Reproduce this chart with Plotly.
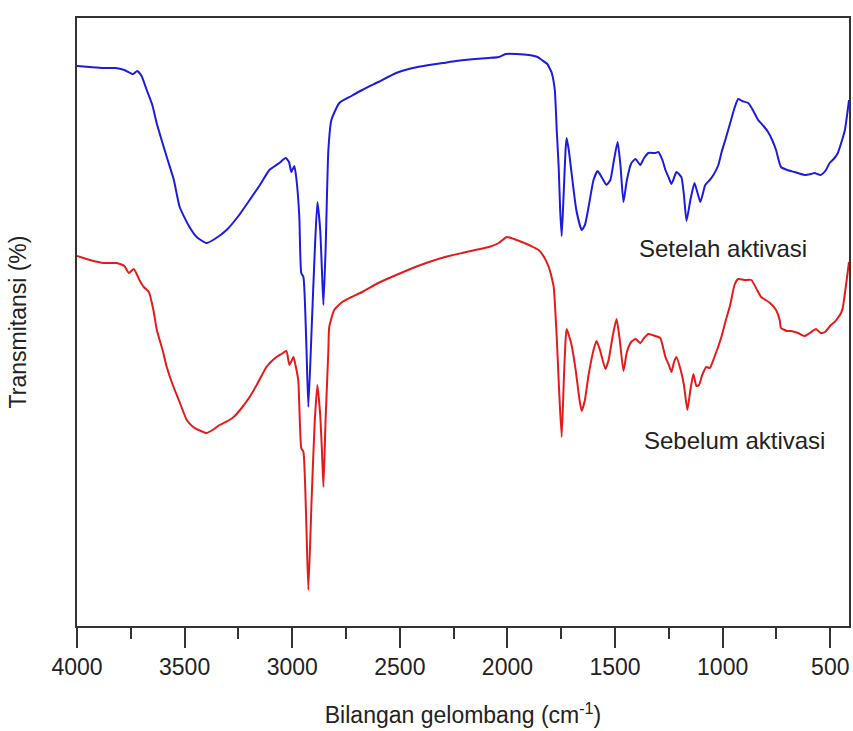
import plotly.graph_objects as go

# wavenumbers (cm-1) and transmittance (arbitrary %)
wn_after = [4000, 3940, 3880, 3820, 3780, 3740, 3720, 3700, 3676, 3650, 3630, 3583, 3550, 3523, 3480, 3444,
            3398, 3360, 3305, 3250, 3198, 3150, 3106, 3060, 3031, 3015, 3004, 2990, 2980, 2967, 2958, 2948,
            2935, 2925, 2910, 2895, 2883, 2870, 2862, 2855, 2845, 2832, 2818, 2781, 2725, 2675, 2600, 2517,
            2440, 2364, 2300, 2239, 2150, 2086, 2040, 2008, 1960, 1900, 1860, 1840, 1815, 1800, 1794, 1780,
            1771, 1762, 1755, 1748, 1740, 1730, 1725, 1715, 1702, 1680, 1655, 1640, 1623, 1600, 1581, 1560,
            1540, 1522, 1505, 1488, 1475, 1461, 1445, 1424, 1405, 1383, 1365, 1345, 1313, 1299, 1280, 1266,
            1250, 1238, 1226, 1215, 1192, 1180, 1168, 1150, 1131, 1118, 1104, 1090, 1081, 1060, 1043, 1020,
            1006, 985, 965, 945, 928, 910, 881, 860, 835, 810, 789, 770, 752, 729, 700, 666, 619, 590, 573,
            545, 520, 503, 480, 465, 445, 432, 420, 413]
t_after = [56.0, 55.9, 55.8, 55.8, 55.6, 55.2, 55.5, 55.0, 53.6, 52.1, 50.3, 46.9, 44.6, 41.9, 40.0, 38.9,
           38.3, 38.7, 39.6, 41.0, 42.6, 44.1, 45.6, 46.3, 46.8, 46.4, 45.4, 46.0, 44.6, 40.9, 35.3, 34.9,
           28.6, 21.9, 29.6, 37.6, 42.4, 39.6, 35.6, 32.1, 37.6, 47.6, 50.6, 52.3, 53.0, 53.6, 54.4, 55.3,
           55.8, 56.1, 56.3, 56.5, 56.7, 56.8, 56.9, 57.2, 57.2, 57.1, 56.9, 56.6, 56.2, 55.6, 55.3, 53.6,
           49.6, 45.9, 41.6, 39.0, 42.6, 47.6, 48.8, 47.6, 45.3, 41.6, 39.6, 40.1, 41.9, 44.6, 45.5, 44.8,
           44.1, 44.6, 46.6, 48.4, 46.1, 42.4, 44.6, 46.3, 46.7, 46.1, 46.8, 47.3, 47.3, 47.4, 46.6, 45.6,
           44.8, 44.2, 44.8, 45.4, 44.9, 43.1, 40.5, 42.6, 44.3, 43.4, 42.4, 43.4, 44.1, 44.6, 45.1, 46.1,
           47.3, 48.8, 50.3, 51.8, 52.7, 52.5, 52.3, 51.6, 50.6, 50.0, 49.4, 48.6, 47.6, 45.9, 45.6, 45.4,
           45.1, 45.2, 45.3, 45.1, 45.6, 46.3, 46.8, 47.3, 48.6, 49.6, 51.4, 52.6]

wn_before = [4000, 3940, 3875, 3815, 3780, 3759, 3736, 3710, 3690, 3666, 3645, 3629, 3600, 3583, 3555, 3527,
             3490, 3460, 3435, 3398, 3370, 3337, 3300, 3272, 3235, 3198, 3160, 3120, 3090, 3073, 3050, 3027,
             3013, 2994, 2985, 2972, 2958, 2948, 2935, 2925, 2910, 2895, 2883, 2870, 2862, 2855, 2845, 2832,
             2828, 2805, 2768, 2725, 2675, 2600, 2517, 2440, 2364, 2290, 2211, 2150, 2086, 2040, 2003, 1970,
             1933, 1890, 1855, 1830, 1808, 1795, 1785, 1771, 1760, 1748, 1738, 1730, 1725, 1715, 1702, 1683,
             1665, 1655, 1640, 1623, 1600, 1586, 1570, 1545, 1530, 1510, 1493, 1478, 1461, 1445, 1425, 1405,
             1383, 1365, 1345, 1313, 1290, 1266, 1250, 1238, 1226, 1215, 1195, 1180, 1164, 1150, 1136, 1122,
             1110, 1095, 1076, 1060, 1040, 1006, 985, 965, 945, 928, 900, 867, 840, 821, 800, 780, 752, 735,
             729, 700, 682, 650, 619, 595, 566, 545, 525, 497, 480, 465, 450, 442, 428, 413]
t_before = [37.0, 36.6, 36.3, 36.3, 36.0, 35.3, 35.7, 34.6, 33.9, 33.4, 31.6, 29.6, 27.4, 25.9, 24.1, 22.6,
            20.6, 19.9, 19.6, 19.3, 19.6, 20.1, 20.5, 20.9, 21.8, 22.9, 24.3, 25.9, 26.6, 26.9, 27.2, 27.5,
            26.1, 26.9, 26.1, 24.6, 17.8, 17.4, 10.6, 3.6, 12.6, 20.6, 24.1, 21.1, 17.6, 13.9, 20.6, 27.6,
            29.9, 31.6, 32.4, 32.9, 33.4, 34.3, 35.1, 35.8, 36.4, 36.9, 37.3, 37.6, 37.9, 38.3, 38.9, 38.7,
            38.4, 38.0, 37.6, 36.9, 35.9, 34.9, 33.9, 28.9, 23.6, 18.9, 24.6, 28.6, 29.7, 29.1, 28.1, 25.6,
            22.6, 21.5, 22.6, 25.1, 27.6, 28.5, 27.6, 25.7, 26.6, 29.1, 30.7, 28.6, 25.5, 27.4, 28.4, 28.7,
            28.3, 28.8, 29.2, 29.0, 28.8, 26.9, 26.1, 25.4, 26.4, 26.9, 25.6, 24.1, 21.6, 23.6, 25.2, 24.0,
            24.1, 25.1, 25.9, 25.8, 26.8, 28.9, 30.6, 32.1, 34.1, 34.7, 34.6, 34.6, 33.6, 32.9, 32.6, 32.3,
            31.6, 30.6, 29.8, 29.5, 29.5, 29.3, 29.0, 29.3, 29.7, 29.3, 29.4, 30.1, 30.4, 30.8, 31.3, 31.8,
            33.9, 36.4]

x_ticks = [4000, 3500, 3000, 2500, 2000, 1500, 1000, 500]
label_after = "Setelah aktivasi"
label_before = "Sebelum aktivasi"

FONT = "Liberation Sans, Arial, sans-serif"

fig = go.Figure()
fig.add_trace(go.Scatter(x=wn_after, y=t_after, mode="lines",
                         line=dict(color="#1c1cdc", width=2, shape="spline", smoothing=0.5),
                         showlegend=False))
fig.add_trace(go.Scatter(x=wn_before, y=t_before, mode="lines",
                         line=dict(color="#e41b1b", width=2, shape="spline", smoothing=0.5),
                         showlegend=False))

fig.add_annotation(x=997, y=37.8, text=label_after, showarrow=False,
                   font=dict(family=FONT, size=24, color="#222222"))
fig.add_annotation(x=946, y=18.6, text=label_before, showarrow=False,
                   font=dict(family=FONT, size=24, color="#222222"))

fig.update_layout(
    width=853, height=731,
    margin=dict(l=77, r=2, t=18, b=105),
    paper_bgcolor="white", plot_bgcolor="white",
    font=dict(family=FONT, size=23, color="#222222"),
    xaxis=dict(range=[4000, 413], tickvals=x_ticks, ticks="outside", ticklen=20, tickwidth=1.5,
               tickcolor="#333333", showgrid=False, zeroline=False,
               showline=True, linecolor="#333333", linewidth=1.5, mirror=True,
               minor=dict(dtick=250, tick0=0, ticks="outside", ticklen=11, tickwidth=1.5,
                          tickcolor="#333333", showgrid=False),
               title=dict(text="Bilangan gelombang (cm<sup>-1</sup>)", standoff=28,
                          font=dict(family=FONT, size=23, color="#222222")),
               tickfont=dict(family=FONT, size=23, color="#222222")),
    yaxis=dict(range=[0, 60.8], showticklabels=False, ticks="", showgrid=False, zeroline=False,
               showline=True, linecolor="#333333", linewidth=1.5, mirror=True,
               title=dict(text="Transmitansi (%)", standoff=42,
                          font=dict(family=FONT, size=23, color="#222222"))),
)

fig.write_html("out.html")
